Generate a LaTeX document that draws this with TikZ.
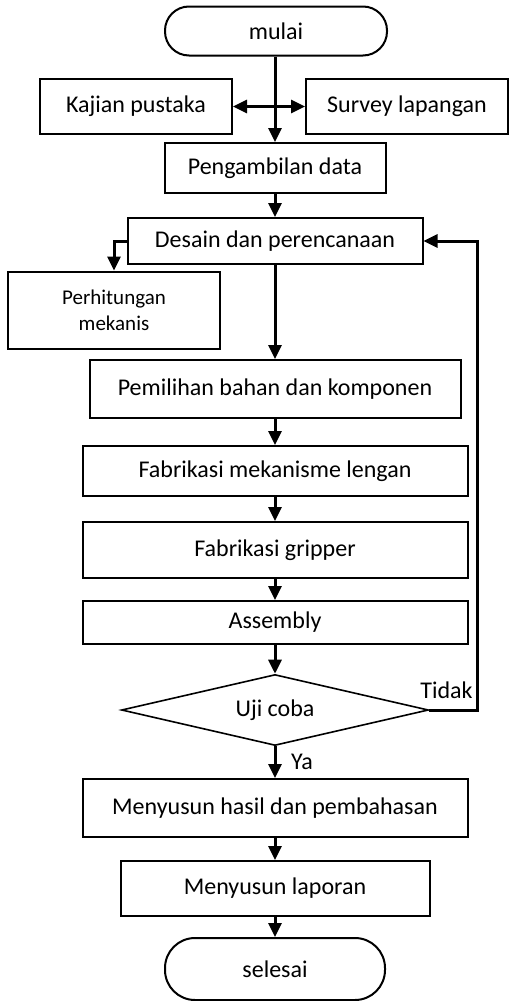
\documentclass[tikz,border=0pt]{standalone}
\usepackage{fontspec}
\setmainfont{Carlito}
\usetikzlibrary{positioning, shapes.geometric, arrows.meta}

\begin{document}
\begin{tikzpicture}[x=0.5pt, y=-0.5pt,
    every node/.style={font=\fontsize{12}{14}\selectfont},
    box/.style={draw, line width=1pt, inner sep=0pt, align=center},
    term/.style={box, rounded corners=12pt},
    tip/.style={Triangle[length=7pt, width=6.5pt]},
    arr/.style={-{Triangle[length=7pt, width=6.5pt]}, line width=1.5pt}]
  \useasboundingbox (0, 0) rectangle (510, 1001);

  \node[term, minimum width=111pt, minimum height=24.5pt] (mulai) at (276, 31) {mulai};
  \node[box, minimum width=96pt, minimum height=27.5pt] (kajian) at (136, 106.5) {Kajian pustaka};
  \node[box, minimum width=101pt, minimum height=27.5pt] (survey) at (407, 106.5) {Survey lapangan};
  \node[box, minimum width=110.5pt, minimum height=25pt] (ambil) at (275, 168) {Pengambilan data};
  \node[box, minimum width=147.5pt, minimum height=23pt] (desain) at (275, 241) {Desain dan perencanaan};
  \node[box, minimum width=106pt, minimum height=38.5pt,
    font=\fontsize{10.5}{13}\selectfont] (hitung) at (114, 310) {Perhitungan\\mekanis};
  \node[box, minimum width=185.5pt, minimum height=29pt] (pilih) at (275, 389) {Pemilihan bahan dan komponen};
  \node[box, minimum width=192.5pt, minimum height=25pt] (lengan) at (275, 471) {Fabrikasi mekanisme lengan};
  \node[box, minimum width=192.5pt, minimum height=28pt] (gripper) at (275, 550) {Fabrikasi gripper};
  \node[box, minimum width=192.5pt, minimum height=21.5pt] (assy) at (275, 622.5) {Assembly};
  \node[diamond, draw, line width=0.8pt, inner sep=0pt, aspect=4.3, minimum width=153.5pt,
    minimum height=35.5pt] (uji) at (275, 710) {Uji coba};
  \node[box, minimum width=192.5pt, minimum height=29pt] (hasil) at (275, 808) {Menyusun hasil dan pembahasan};
  \node[box, minimum width=154.5pt, minimum height=27.5pt] (lapor) at (275, 888.5) {Menyusun laporan};
  \node[term, minimum width=110pt, minimum height=31pt, rounded corners=15pt] (selesai) at (275, 969) {selesai};

  % alur utama
  \draw[arr] (mulai.south -| ambil.north) -- (ambil.north);
  \draw[{Triangle[length=7pt, width=6.5pt]}-{Triangle[length=7pt, width=6.5pt]}, line width=1.5pt]
    (kajian.east) -- (survey.west);
  \draw[arr] (ambil) -- (desain);
  \draw[arr] (desain.west) -| (hitung.north);
  \draw[arr] (desain) -- (pilih);
  \draw[arr] (pilih) -- (lengan);
  \draw[arr] (lengan) -- (gripper);
  \draw[arr] (gripper) -- (assy);
  \draw[arr] (assy) -- (uji);
  \draw[arr] (uji) -- node[right=4pt] {Ya} (hasil);
  \draw[arr] (hasil) -- (lapor);
  \draw[arr] (lapor) -- (selesai);

  % umpan balik
  \coordinate (balik) at (477, 710);
  \draw[arr] (uji.east) -- (balik) |- (desain.east);
  \node[anchor=base east, inner sep=0pt] (tidak) at (473, 698) {Tidak};
\end{tikzpicture}
\end{document}
